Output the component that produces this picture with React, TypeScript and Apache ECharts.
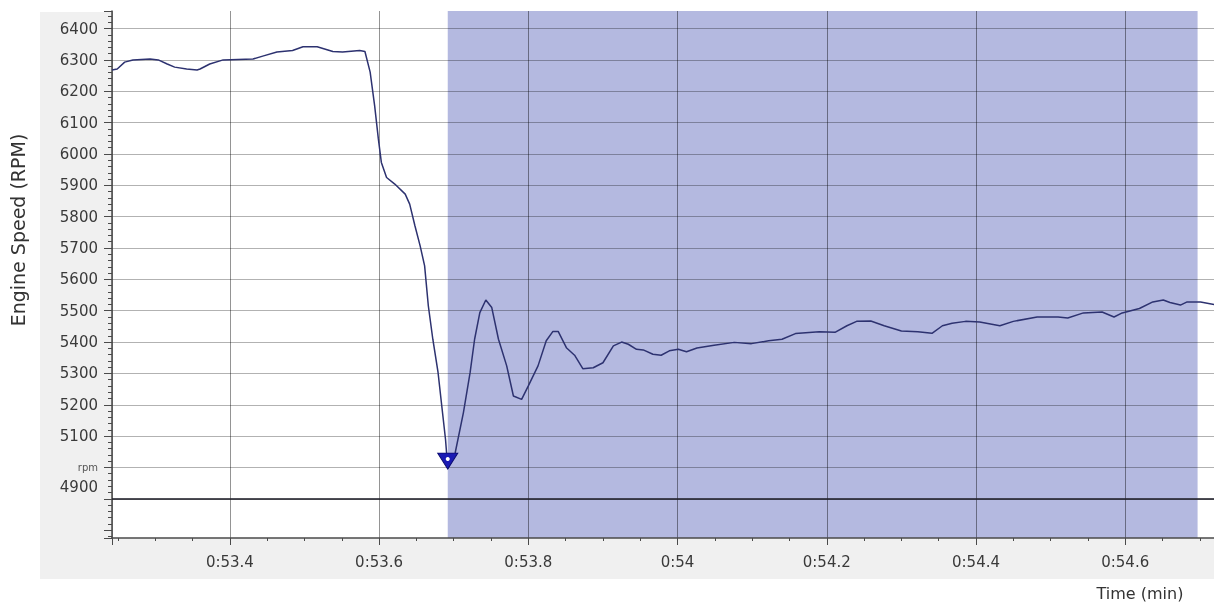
import React, { useEffect, useRef } from 'react';
import * as echarts from 'echarts';

// Time in seconds (labels shown as m:ss.s)
const timeSec = [
  53.242, 53.249, 53.259, 53.270, 53.293, 53.304, 53.316, 53.326, 53.342, 53.356,
  53.360, 53.373, 53.391, 53.431, 53.444, 53.463, 53.484, 53.498, 53.517, 53.538,
  53.551, 53.574, 53.581, 53.588, 53.594, 53.599, 53.603, 53.610, 53.621, 53.635,
  53.641, 53.648, 53.655, 53.661, 53.666, 53.672, 53.679, 53.684, 53.689, 53.692,
  53.702, 53.713, 53.722, 53.728, 53.735, 53.743, 53.751, 53.760, 53.771, 53.780,
  53.791, 53.800, 53.813, 53.824, 53.833, 53.840, 53.851, 53.862, 53.873, 53.887,
  53.900, 53.914, 53.925, 53.934, 53.945, 53.954, 53.967, 53.978, 53.989, 54.001,
  54.012, 54.026, 54.049, 54.076, 54.099, 54.122, 54.140, 54.158, 54.190, 54.211,
  54.227, 54.240, 54.259, 54.277, 54.300, 54.322, 54.341, 54.355, 54.368, 54.386,
  54.405, 54.432, 54.450, 54.482, 54.510, 54.523, 54.544, 54.569, 54.585, 54.596,
  54.619, 54.637, 54.651, 54.660, 54.674, 54.683, 54.701, 54.719,
];

const engineRpm = [
  6268, 6271, 6293, 6300, 6303, 6300, 6287, 6277, 6271, 6268,
  6271, 6287, 6300, 6303, 6312, 6325, 6330, 6342, 6342, 6327,
  6325, 6330, 6327, 6261, 6154, 6048, 5973, 5925, 5904, 5872,
  5840, 5771, 5707, 5643, 5515, 5409, 5303, 5196, 5090, 4998,
  5047, 5175, 5303, 5409, 5494, 5534, 5510, 5409, 5324, 5228,
  5217, 5260, 5324, 5404, 5434, 5434, 5382, 5358, 5315, 5318,
  5334, 5388, 5400, 5393, 5377, 5375, 5361, 5358, 5372, 5377,
  5369, 5381, 5390, 5399, 5395, 5404, 5409, 5427, 5433, 5431,
  5452, 5466, 5467, 5452, 5435, 5433, 5428, 5452, 5460, 5466,
  5464, 5452, 5466, 5480, 5480, 5477, 5493, 5496, 5480, 5493,
  5507, 5528, 5534, 5526, 5518, 5528, 5528, 5520,
];

const xRange = [53.242, 54.719];
const yRange = [4775, 6456];
const xStep = 0.2;
const yStep = 100;
const yLabelRange = [4900, 6400];
const unitLabelValue = 5000;
const shadeRange = [53.692, 54.697];
const minPoint = [53.692, 4998];
const baseLineRpm = 4900;

export default function App() {
  const ref = useRef<HTMLDivElement>(null);

  useEffect(() => {
    const chart = echarts.init(ref.current as HTMLDivElement, null, { renderer: 'svg' });
    const font = 'DejaVu Sans';
    const labelColor = '#3a3a3a';
    const hGrid = 'rgba(0,0,0,0.30)';
    const vGrid = 'rgba(0,0,0,0.42)';
    const clear = 'rgba(0,0,0,0)';

    // split line colours: first (min extent) and 4800 hidden, the rest visible
    const yTickCount = Math.round((yLabelRange[1] - 4800) / yStep) + 1;
    const yLineColors = [clear, clear];
    for (let i = 0; i < yTickCount - 1; i++) yLineColors.push(hGrid);

    const fmtX = (v: number) => {
      const k = v / xStep;
      if (Math.abs(k - Math.round(k)) > 1e-6) return '';
      const s = Math.round(v * 10) / 10;
      return '0:' + (Math.abs(s - Math.round(s)) < 1e-9 ? s.toFixed(0) : s.toFixed(1));
    };
    const fmtY = (v: number) => {
      if (Math.abs(v / yStep - Math.round(v / yStep)) > 1e-6) return '';
      if (v < yLabelRange[0] || v > yLabelRange[1]) return '';
      if (v === unitLabelValue) return '{u|rpm}';
      if (v === yLabelRange[0]) return '{s|' + v + '}';
      return String(v);
    };

    const option: any = {
      animation: false,
      graphic: {
        elements: [
          {
            type: 'rect',
            z: -10,
            shape: { x: 40, y: 12, width: 1174, height: 567 },
            style: { fill: '#f0f0f0' },
          },
          {
            type: 'text',
            x: 18,
            y: 230,
            rotation: Math.PI / 2,
            style: {
              text: 'Engine Speed (RPM)',
              font: '19px "DejaVu Sans"',
              fill: '#333',
              align: 'center',
              verticalAlign: 'middle',
              textAlign: 'center',
              textVerticalAlign: 'middle',
            },
          },
          {
            type: 'text',
            x: 1140,
            y: 593,
            style: {
              text: 'Time (min)',
              font: '16px "DejaVu Sans"',
              fill: '#333',
              align: 'center',
              verticalAlign: 'middle',
              textAlign: 'center',
              textVerticalAlign: 'middle',
            },
          },
        ],
      },
      grid: {
        left: 112,
        top: 11,
        right: 0,
        bottom: 70,
        show: true,
        backgroundColor: '#ffffff',
        borderWidth: 0,
      },
      xAxis: {
        type: 'value',
        min: xRange[0],
        max: xRange[1],
        minInterval: xStep,
        maxInterval: xStep,
        z: 2,
        axisLine: { show: true, onZero: false, lineStyle: { color: '#4a4a4a', width: 1.5 } },
        axisTick: { show: true, length: 7, lineStyle: { color: '#4a4a4a' } },
        minorTick: { show: true, splitNumber: 4, length: 3, lineStyle: { color: '#4a4a4a' } },
        axisLabel: {
          formatter: fmtX,
          showMinLabel: false,
          showMaxLabel: false,
          margin: 16,
          fontSize: 15,
          fontFamily: font,
          color: labelColor,
        },
        splitLine: { show: true, showMaxLine: false, lineStyle: { color: vGrid, width: 1 } },
      },
      yAxis: {
        type: 'value',
        min: yRange[0],
        max: yRange[1],
        minInterval: yStep,
        maxInterval: yStep,
        z: 2,
        axisLine: { show: true, onZero: false, lineStyle: { color: '#4a4a4a', width: 1.5 } },
        axisTick: { show: true, length: 8, lineStyle: { color: '#4a4a4a' } },
        minorTick: { show: true, splitNumber: 5, length: 4, lineStyle: { color: '#4a4a4a' } },
        axisLabel: {
          formatter: fmtY,
          showMinLabel: false,
          showMaxLabel: false,
          margin: 14,
          fontSize: 15,
          fontFamily: font,
          color: labelColor,
          rich: {
            u: { fontSize: 10, fontFamily: font, color: '#555' },
            s: { fontSize: 15, fontFamily: font, color: labelColor, padding: [0, 0, 23, 0] },
          },
        },
        splitLine: {
          show: true,
          showMaxLine: false,
          lineStyle: { color: yLineColors, width: 1 },
        },
      },
      series: [
        {
          type: 'line',
          z: 3,
          data: timeSec.map((t, i) => [t, engineRpm[i]]),
          showSymbol: false,
          symbol: 'none',
          lineStyle: { color: '#2d3270', width: 1.5 },
          silent: true,
          markArea: {
            z: 1,
            silent: true,
            itemStyle: { color: '#b4b9e0' },
            label: { show: false },
            data: [[{ xAxis: shadeRange[0] }, { xAxis: shadeRange[1] }]],
          },
          markLine: {
            silent: true,
            symbol: ['none', 'none'],
            label: { show: false },
            lineStyle: { color: 'rgba(35,35,45,0.8)', width: 2, type: 'solid' },
            data: [{ yAxis: baseLineRpm }],
          },
          markPoint: {
            silent: true,
            label: { show: false },
            data: [
              {
                coord: minPoint,
                symbol: 'triangle',
                symbolSize: [20, 16],
                symbolRotate: 180,
                symbolOffset: [0, -7],
                itemStyle: { color: '#1a1ab4', borderColor: '#0a0a70', borderWidth: 1 },
              },
              {
                coord: minPoint,
                symbol: 'circle',
                symbolSize: 4,
                symbolOffset: [0, -9],
                itemStyle: { color: '#ffffff' },
              },
            ],
          },
        },
      ],
    };

    chart.setOption(option);
    return () => chart.dispose();
  }, []);

  return (
    <div
      ref={ref}
      style={{ position: 'fixed', left: 0, top: 0, width: 1214, height: 608 }}
    />
  );
}
